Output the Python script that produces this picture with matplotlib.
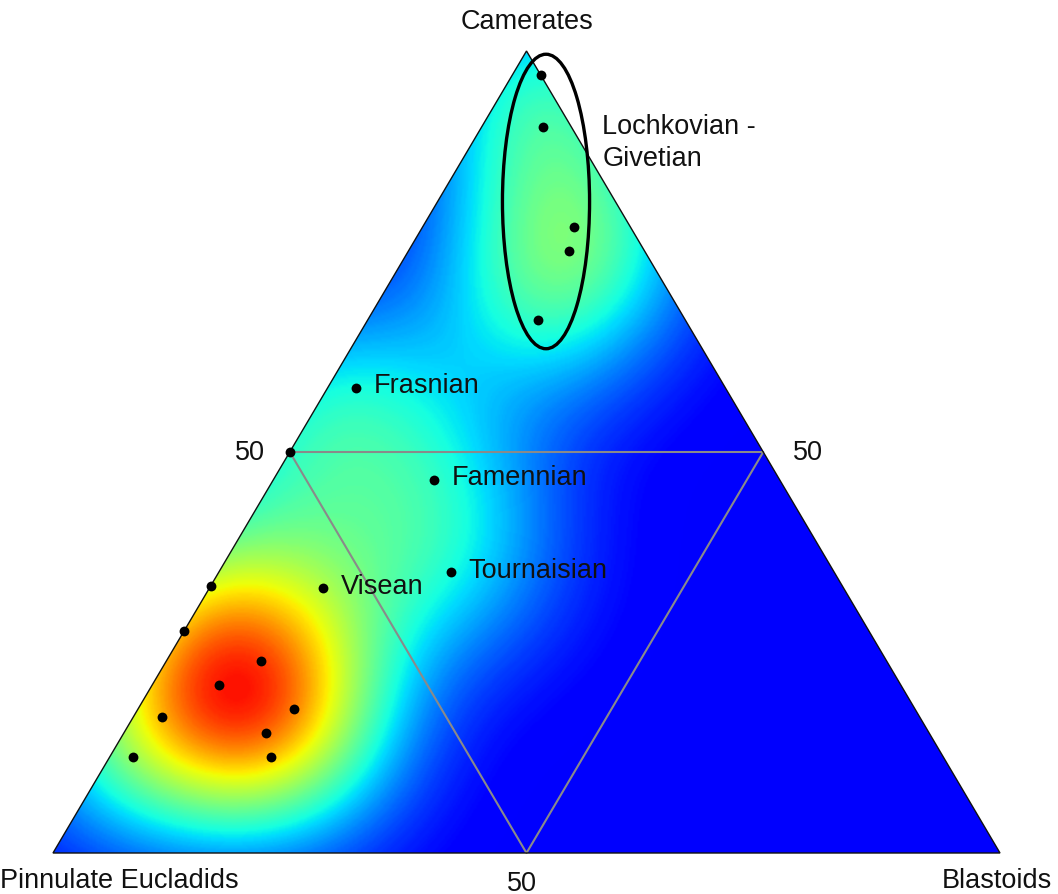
import numpy as np
import matplotlib
matplotlib.use("Agg")
import matplotlib.pyplot as plt
from matplotlib.patches import Polygon, Ellipse
from matplotlib.colors import ListedColormap

plt.rcParams['font.family'] = ['Liberation Sans', 'DejaVu Sans']

# Composition of each assemblage (%): camerates, pinnulate eucladids, blastoids
camerates = [97, 90.5, 78, 75, 66.5, 58, 46.5, 35, 33, 50, 33.3, 27.7, 24, 21, 18, 17, 15, 12, 12]
pinnulate = [0, 3, 6, 8, 15.5, 39, 36.5, 40.5, 55, 50, 66.7, 72.3, 66, 72, 65.5, 80, 70, 85.5, 71]
blastoids = [3, 6.5, 16, 17, 18, 3, 17, 24.5, 12, 0, 0, 0, 10, 7, 16.5, 3, 15, 2.5, 17]

# Named stages (index into the arrays above)
stage_names = ["Frasnian", "Famennian", "Tournaisian", "Visean"]
stage_index = [5, 6, 7, 8]

vertex_labels = ["Camerates", "Pinnulate Eucladids", "Blastoids"]
mid_labels = ["50", "50", "50"]

H = 0.866  # triangle height
FS = 19.5
TXT = "#111111"


def to_xy(c, p, b):
    c = np.asarray(c, float)
    p = np.asarray(p, float)
    b = np.asarray(b, float)
    tot = c + p + b
    return b / tot + 0.5 * c / tot, H * c / tot


fig = plt.figure(figsize=(10.58, 8.95), dpi=100)
ax = fig.add_axes([0, 0, 1, 1])
ax.set_xlim(-53 / 947, (1058 - 53) / 947)
ax.set_ylim(-41 / 926.1, (895 - 41) / 926.1)
ax.axis("off")

x, y = to_xy(camerates, pinnulate, blastoids)

# Kernel density of the assemblages across the triangle
gx = np.linspace(0, 1, 600)
gy = np.linspace(0, H, 520)
GX, GY = np.meshgrid(gx, gy)
sx, sy = 0.088, 0.082
dens = np.zeros_like(GX)
for xi, yi in zip(x, y):
    dens += np.exp(-0.5 * (((GX - xi) / sx) ** 2 + ((GY - yi) / sy) ** 2))
dens /= dens.max()
dens = dens ** 0.92

cmap = ListedColormap(plt.get_cmap("jet")(np.linspace(0.11, 0.89, 256)))
tri = Polygon([[0, 0], [1, 0], [0.5, H]], closed=True, facecolor="none",
              edgecolor="#101010", lw=1.0, zorder=3)
img = ax.imshow(dens, origin="lower", extent=[0, 1, 0, H], cmap=cmap,
                vmin=0, vmax=1, interpolation="bilinear", aspect="auto", zorder=1)
ax.add_patch(tri)
img.set_clip_path(tri)

# Inner 50% grid
mx, my = to_xy([50, 50, 0], [50, 0, 50], [0, 50, 50])
ax.plot([mx[0], mx[1], mx[2], mx[0]], [my[0], my[1], my[2], my[0]],
        color="#8a8a8a", lw=1.5, zorder=2)

ax.scatter(x, y, s=50, color="black", zorder=5, linewidths=0)

# Stage labels
for name, i in zip(stage_names, stage_index):
    ax.annotate(name, (x[i], y[i]), xytext=(13, 2), textcoords="offset points",
                ha="left", va="center", fontsize=FS, color=TXT, zorder=6)

# Lochkovian - Givetian grouping
ell = Ellipse((0.5206, 0.7035), 0.092, 0.318, facecolor="none",
              edgecolor="black", lw=2.4, zorder=6)
ax.add_patch(ell)
ax.text(0.58, 0.768, "Lochkovian -\nGivetian", ha="left", va="center",
        fontsize=FS, color=TXT, linespacing=1.3)

# Vertex labels
ax.text(0.5, H + 0.0325, vertex_labels[0], ha="center", va="center", fontsize=FS, color=TXT)
ax.text(-0.056, -0.029, vertex_labels[1], ha="left", va="center", fontsize=FS, color=TXT)
ax.text(1.0549, -0.029, vertex_labels[2], ha="right", va="center", fontsize=FS, color=TXT)

# 50% tick labels
ax.text(0.495, -0.032, mid_labels[0], ha="center", va="center", fontsize=FS, color=TXT)
ax.text(mx[0] - 0.026, my[0], mid_labels[1], ha="right", va="center", fontsize=FS, color=TXT)
ax.text(mx[1] + 0.031, my[1], mid_labels[2], ha="left", va="center", fontsize=FS, color=TXT)

fig.savefig("out.png", dpi=100)
